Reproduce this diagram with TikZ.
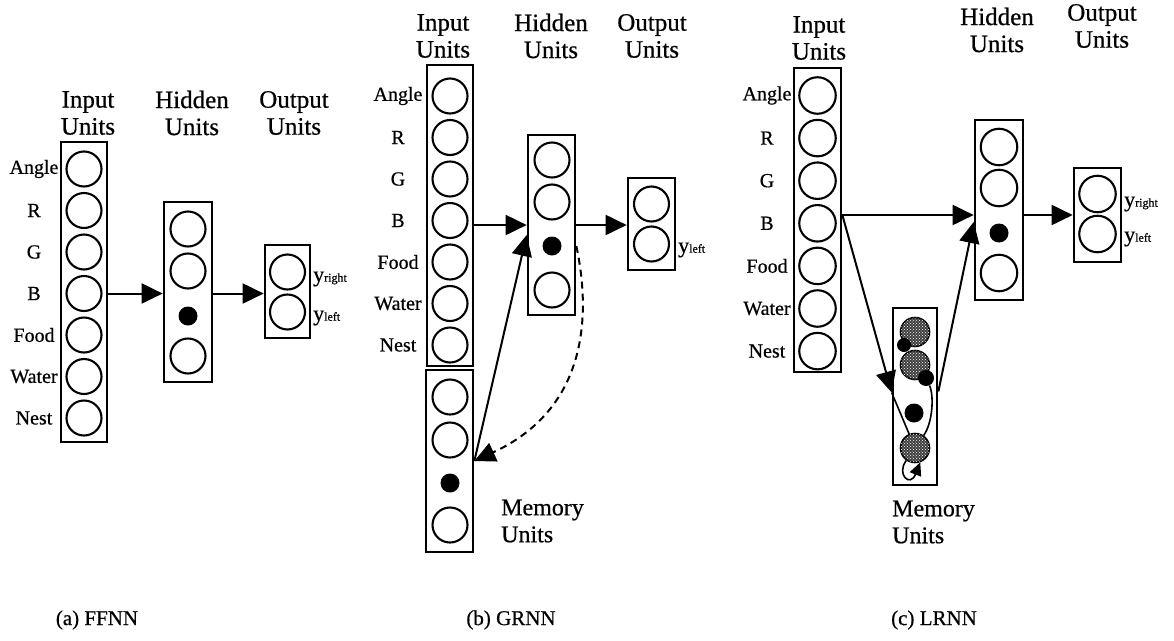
\documentclass[tikz,border=0pt]{standalone}
\usepackage{fontspec}
\setmainfont{Liberation Serif}[FakeBold=0.6]
\usetikzlibrary{arrows.meta,patterns}
\newcommand\ysub[1]{{\fontsize{22}{22}\selectfont y}{\fontsize{12}{12}\selectfont #1}}
\begin{document}
\begin{tikzpicture}[x=1pt,y=-1pt,
 box/.style={draw,line width=2.7pt,rectangle,inner sep=0pt},
 unit/.style={circle,draw,line width=2.1pt,minimum size=35pt,inner sep=0pt},
 unitc/.style={unit,minimum size=36.5pt},
 bdot/.style={circle,fill=black,minimum size=19pt,inner sep=0pt},
 lab/.style={font=\fontsize{20}{20}\selectfont,inner sep=0pt},
 head/.style={align=center,font=\fontsize{25}{27}\selectfont,inner sep=0pt},
 memlab/.style={align=left,anchor=west,font=\fontsize{24}{27}\selectfont,inner sep=0pt},
 captxt/.style={font=\fontsize{21}{21}\selectfont,inner sep=0pt},
 ylab/.style={anchor=west,inner sep=0pt},
 arr/.style={line width=2pt,-{Triangle[length=21pt,width=20pt]}},
 lin/.style={line width=1.6pt},
 memg/.style={circle,draw,line width=1.6pt,fill=black!75,minimum size=29pt,inner sep=0pt,postaction={pattern=crosshatch dots,pattern color=white}}
]
\useasboundingbox (0,0) rectangle (1174,640);

% ---------------- (a) FFNN ----------------
\node[head] (hia) at (88,113) {Input\\Units};
\node[head] (hha) at (192,113) {Hidden\\Units};
\node[head] (hoa) at (294,113) {Output\\Units};
\node[box,minimum width=46pt,minimum height=300pt] (ia) at (84,292) {};
\foreach \i/\t in {1/Angle,2/R,3/G,4/B,5/Food,6/Water,7/Nest}{
  \node[unit] (ia\i) at (84,{169+41.5*(\i-1)}) {};
  \node[lab] (la\i) at (34,{169+41.5*(\i-1)}) {\t};
}
\node[box,minimum width=48pt,minimum height=180pt] (ha) at (188,292) {};
\node[unit] (ha1) at (188,229) {};
\node[unit] (ha2) at (188,271) {};
\node[bdot] (ha3) at (188,316) {};
\node[unit] (ha4) at (188,356) {};
\node[box,minimum width=45pt,minimum height=93pt] (oa) at (287.5,291.5) {};
\node[unit] (oa1) at (287.5,272) {};
\node[unit] (oa2) at (287.5,312) {};
\node[ylab] (ya1) at (313,279) {\ysub{right}};
\node[ylab] (ya2) at (313,318) {\ysub{left}};
\draw[arr] (ia.east |- ia4) -- (ha.west |- ia4);
\draw[arr] (ha.east |- ia4) -- (oa.west |- ia4);
\node[captxt] (capa) at (97,620) {(a) FFNN};

% ---------------- (b) GRNN ----------------
\node[head] (hib) at (443,36) {Input\\Units};
\node[head] (hhb) at (551,36) {Hidden\\Units};
\node[head] (hob) at (652,36) {Output\\Units};
\node[box,minimum width=46pt,minimum height=301pt] (ib) at (450,215.5) {};
\foreach \i/\t in {1/Angle,2/R,3/G,4/B,5/Food,6/Water,7/Nest}{
  \node[unit] (ib\i) at (450,{96+41.5*(\i-1)}) {};
  \node[lab] (lb\i) at (398,{96+41.5*(\i-1)}) {\t};
}
\node[box,minimum width=47pt,minimum height=182pt] (mb) at (449.5,461) {};
\node[unit] (mb1) at (450,397) {};
\node[unit] (mb2) at (450,440) {};
\node[bdot] (mb3) at (450,483) {};
\node[unit] (mb4) at (450,525) {};
\node[memlab] (mlb) at (501,521) {Memory\\Units};
\node[box,minimum width=47pt,minimum height=180pt] (hb) at (551.5,225) {};
\node[unit] (hb1) at (552,160) {};
\node[unit] (hb2) at (552,202) {};
\node[bdot] (hb3) at (552,246) {};
\node[unit] (hb4) at (552,290) {};
\node[box,minimum width=47pt,minimum height=92pt] (ob) at (651.5,224) {};
\node[unit] (ob1) at (651.5,204) {};
\node[unit] (ob2) at (651.5,244) {};
\node[ylab] (yb2) at (678,250) {\ysub{left}};
\coordinate (yb) at (0,225);
\draw[arr] (ib.east |- yb) -- (hb.west |- yb);
\draw[arr] (hb.east |- yb) -- (ob.west |- yb);
\coordinate (hbin) at ([yshift=-10pt]hb.west);
\draw[arr] (mb.east) -- (hbin);
\draw[arr,dash pattern=on 7pt off 5pt] (hb3 -| hb.east) .. controls (592,320) and (585,410) .. (mb.east);
\node[captxt] (capb) at (511,620) {(b) GRNN};

% ---------------- (c) LRNN ----------------
\node[head] (hic) at (819,38) {Input\\Units};
\node[head] (hhc) at (997,30) {Hidden\\Units};
\node[head] (hoc) at (1102,26) {Output\\Units};
\node[box,minimum width=47pt,minimum height=304pt] (ic) at (817.5,220) {};
\foreach \i/\t in {1/Angle,2/R,3/G,4/B,5/Food,6/Water,7/Nest}{
  \node[unitc] (ic\i) at (817.5,{95.5+42.6*(\i-1)}) {};
  \node[lab] (lc\i) at (767,{95.5+42.6*(\i-1)}) {\t};
}
\node[box,minimum width=48pt,minimum height=180pt] (hc) at (999,210) {};
\node[unitc] (hc1) at (999,147) {};
\node[unitc] (hc2) at (999,188) {};
\node[bdot] (hc3) at (999,233) {};
\node[unitc] (hc4) at (999,273) {};
\node[box,minimum width=47pt,minimum height=94pt] (oc) at (1097.5,215) {};
\node[unitc] (oc1) at (1097.5,194) {};
\node[unitc] (oc2) at (1097.5,234) {};
\node[ylab] (yc1) at (1124,204) {\ysub{right}};
\node[ylab] (yc2) at (1124,239) {\ysub{left}};
\node[box,minimum width=44pt,minimum height=177pt] (mc) at (915,396.5) {};
\node[memg] (m1) at (915,332) {};
\node[memg] (m2) at (915,365) {};
\node[bdot,minimum size=14pt] (s1) at (904,345) {};
\node[bdot,minimum size=16pt] (s2) at (926,378) {};
\node[bdot] (m3) at (914,413) {};
\node[memg] (m4) at (915,448) {};
\node[memlab] (mlc) at (892,522) {Memory\\Units};
\coordinate (yc) at (0,215);
\coordinate (mcin) at ([yshift=4pt]mc.west);
\coordinate (mcout) at ([yshift=5pt]mc.east);
\coordinate (hcin) at ([yshift=-12pt]hc.west);
\draw[arr] (ic.east |- yc) -- (hc.west |- yc);
\draw[arr] (hc.east |- yc) -- (oc.west |- yc);
\draw[arr] (ic.east |- yc) -- (mcin);
\draw[arr] (mcout) -- (hcin);
\draw[lin] (s2) .. controls (934,395) and (933,422) .. (m4);
\draw[lin] (mcin) -- (m4);
\draw[lin,-{Triangle[length=13pt,width=12pt]}] (m4.235) .. controls (896,474) and (910,488) .. (m4.290);
\node[captxt] (capc) at (934,620) {(c) LRNN};
\end{tikzpicture}
\end{document}
